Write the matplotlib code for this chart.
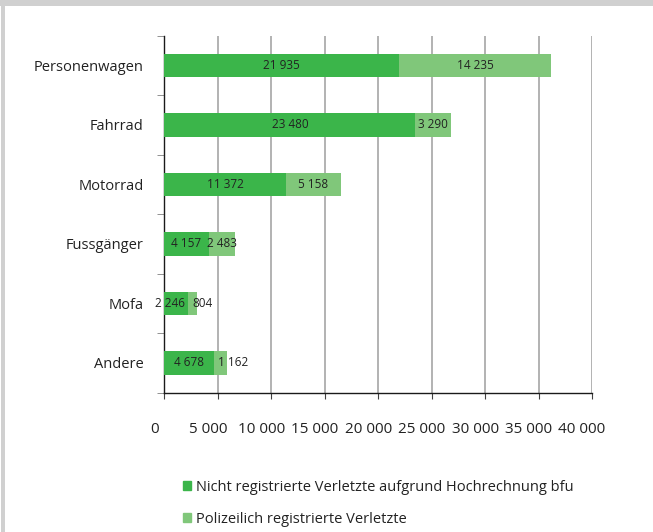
import matplotlib

matplotlib.use("Agg")
import matplotlib.pyplot as plt
import matplotlib.transforms as mtransforms
from matplotlib.patches import Patch, Rectangle

categories = ["Personenwagen", "Fahrrad", "Motorrad", "Fussgänger", "Mofa", "Andere"]
nicht_registriert = [21935, 23480, 11372, 4157, 2246, 4678]
polizeilich = [14235, 3290, 5158, 2483, 804, 1162]
series_names = [
    "Nicht registrierte Verletzte aufgrund Hochrechnung bfu",
    "Polizeilich registrierte Verletzte",
]
x_ticks = list(range(0, 40001, 5000))

DARK = "#3bb54a"
LIGHT = "#80c77a"
TEXT = "#222222"

plt.rcParams["font.family"] = ["Open Sans", "DejaVu Sans"]

fig = plt.figure(figsize=(6.53, 5.32), dpi=100)
ax = fig.add_axes([0.2516, 0.2618, 0.9066 - 0.2516, 0.9329 - 0.2618])

y = list(range(len(categories)))
h = 0.39
ax.barh(y, nicht_registriert, height=h, color=DARK, zorder=3)
ax.barh(y, polizeilich, left=nicht_registriert, height=h, color=LIGHT, zorder=3)


def fmt(v):
    return f"{v:,}".replace(",", " ")


def label(x, yy, txt, ha="center", dx=0):
    ax.annotate(txt, (x, yy), xytext=(dx, 0), textcoords="offset pixels",
                ha=ha, va="center", fontsize=8.5, color=TEXT, zorder=4)


for i in y:
    a, b = nicht_registriert[i], polizeilich[i]
    if a < 3000:
        label(a, i, fmt(a), ha="right", dx=-3)
    else:
        label(a / 2, i, fmt(a))
    if b < 1500:
        label(a, i, fmt(b), ha="left", dx=4)
    else:
        label(a + b / 2, i, fmt(b))

ax.set_ylim(len(categories) - 0.5, -0.5)
ax.set_xlim(0, 40000)
ax.set_yticks(y)
ax.set_yticklabels(categories, fontsize=10.5, color=TEXT)
ax.set_yticks([k - 0.5 for k in range(len(categories) + 1)], minor=True)
ax.tick_params(axis="y", which="major", length=0, pad=15)
ax.tick_params(axis="y", which="minor", length=5, color="#808080")

ax.set_xticks(x_ticks)
ax.set_xticklabels([fmt(v) for v in x_ticks], fontsize=11, color=TEXT)
ax.tick_params(axis="x", length=4, pad=17, color="#404040")
shift = mtransforms.ScaledTranslation(-10 / 100, 0, fig.dpi_scale_trans)
for lbl in ax.get_xticklabels():
    lbl.set_transform(lbl.get_transform() + shift)

ax.grid(axis="x", color="#a6a6a6", linewidth=1.2, zorder=0)
for side in ("top", "right"):
    ax.spines[side].set_visible(False)
for side in ("left", "bottom"):
    ax.spines[side].set_color("#1a1a1a")
    ax.spines[side].set_linewidth(1.0)

handles = [Patch(color=DARK), Patch(color=LIGHT)]
fig.legend(handles, series_names, loc="center left",
           bbox_to_anchor=(0.28, 0.054), frameon=False, fontsize=10.5,
           handlelength=0.55, handleheight=0.55, handletextpad=0.35,
           labelspacing=1.2, labelcolor=TEXT, borderpad=0, borderaxespad=0)

# grey frame strips at top and left edge
fig.patches.append(Rectangle((0, 526), 653, 6, transform=None,
                             facecolor="#d0d0d0", edgecolor="none"))
fig.patches.append(Rectangle((1, 0), 4, 532, transform=None,
                             facecolor="#d0d0d0", edgecolor="none"))

fig.savefig("out.png", dpi=100)
